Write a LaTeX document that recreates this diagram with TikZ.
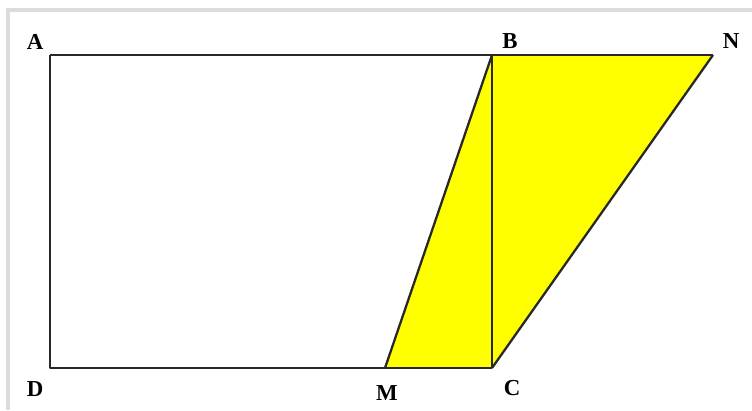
\documentclass[tikz,border=0pt]{standalone}
\usepackage{fontspec}
\setmainfont{Liberation Serif}
\usepackage{xcolor}
\usetikzlibrary{positioning}
\definecolor{edgeCol}{RGB}{40,40,40}
\definecolor{fillCol}{RGB}{255,255,0}
\definecolor{frameCol}{RGB}{220,220,220}
\tikzset{
  edge/.style={draw=edgeCol, line width=1.3pt, line join=round},
  shade/.style={fill=fillCol, draw=none},
  lab/.style={font=\fontsize{13}{15}\selectfont\bfseries, inner sep=0pt},
  frame/.style={draw=frameCol, line width=1.8pt},
}
\begin{document}
\begin{tikzpicture}[x=0.02cm, y=-0.02cm]
  \useasboundingbox (0,0) rectangle (752,410);
  % corners
  \coordinate (A) at (50,55);
  \coordinate (B) at (492,55);
  \coordinate (N) at (713,55);
  \coordinate (D) at (50,368);
  \coordinate (M) at (385,368);
  \coordinate (C) at (492,368);
  \coordinate (f1) at (8,410);
  \coordinate (f2) at (8,10);
  \coordinate (f3) at (752,10);
  % picture frame
  \draw[frame] (f1) -- (f2) -- (f3);
  % yellow parts
  \fill[shade] (M) -- (B) -- (N) -- (C) -- cycle;
  % lines
  \draw[edge] (A) -- (N);
  \draw[edge] (A) -- (D) -- (C);
  \draw[edge] (B) -- (C);
  \draw[edge] (B) -- (M);
  \draw[edge] (N) -- (C);
  % labels
  \node[lab] (lA) at (35,42)  {A};
  \node[lab] (lB) at (510,41) {B};
  \node[lab] (lN) at (731,41) {N};
  \node[lab] (lD) at (35,389) {D};
  \node[lab] (lM) at (387,393) {M};
  \node[lab] (lC) at (512,388) {C};
\end{tikzpicture}
\end{document}
